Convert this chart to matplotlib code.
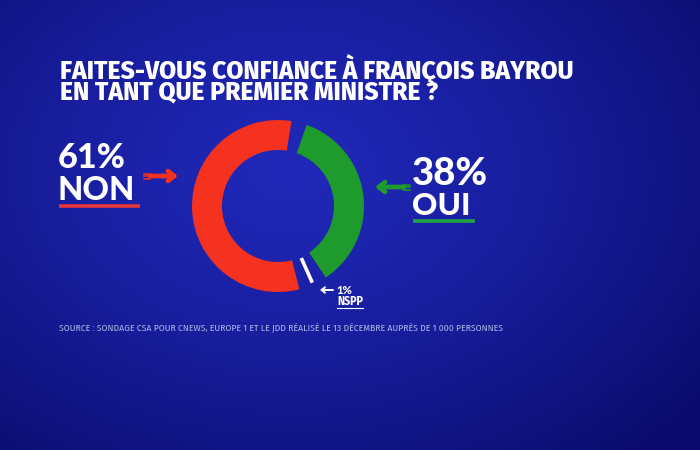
import numpy as np
import matplotlib

matplotlib.use("Agg")
import matplotlib.pyplot as plt  # noqa: E402
from matplotlib.patches import Wedge  # noqa: E402

# data ---------------------------------------------------------------------
labels = ["OUI", "NSPP", "NON"]            # clockwise order, starting top right
values = [38, 1, 61]
colors = ["#1f9a2c", "white", "#f4321f"]
title = "FAITES-VOUS CONFIANCE À FRANÇOIS BAYROU\nEN TANT QUE PREMIER MINISTRE ?"
source = ("SOURCE : SONDAGE CSA POUR CNEWS, EUROPE 1 ET LE JDD RÉALISÉ LE 13 DÉCEMBRE "
          "AUPRÈS DE 1 000 PERSONNES")

# layout (pixels, y down) ----------------------------------------------------
W, H = 700, 450
CX, CY, R_OUT, R_IN = 278, 206, 86, 56
START = 19.5                 # clock angle where the first segment begins
GAPS = [8, 8, 10.5]          # gap after each segment
TITLE_F, TITLE_CAP = "Fira Sans", 0.689
SMALL_F = "Fira Sans Condensed"
BIG_F, BIG_CAP = "Lato", 0.7165

fig = plt.figure(figsize=(7, 4.5), dpi=100)
ax = fig.add_axes([0, 0, 1, 1])
ax.set_xlim(0, W); ax.set_ylim(H, 0); ax.axis("off")

# background: radial blue gradient
yy, xx = np.mgrid[0:H, 0:W]
d = np.sqrt(((xx - 290) / 520) ** 2 + ((yy - 170) / 380) ** 2).clip(0, 1)
c0, c1 = np.array([0x20, 0x28, 0xb8]) / 255, np.array([0x0a, 0x0b, 0x6c]) / 255
bg = c0 + (c1 - c0) * d[..., None] ** 1.3
ax.imshow(bg, extent=[0, W, H, 0], zorder=0)

# donut: clock angle a -> data angle a - 90 (y axis inverted)
per_pct = (360 - sum(GAPS)) / sum(values)
a = START
for lab, v, c, g in zip(labels, values, colors, GAPS):
    span = v * per_pct
    if lab == "NSPP":
        mid = np.deg2rad(a + span / 2)
        r = np.array([R_IN + 1, R_OUT - 2])
        ax.plot(CX + r * np.sin(mid), CY - r * np.cos(mid), color=c, lw=2.6,
                solid_capstyle="butt", zorder=3)
    else:
        ax.add_patch(Wedge((CX, CY), R_OUT, a - 90, a + span - 90, width=R_OUT - R_IN,
                           color=c, lw=0, zorder=2))
    a += span + g

rend = fig.canvas.get_renderer()


def cap_text(x, y, s, cap, ratio, **kw):
    """text with baseline at y and capitals `cap` pixels tall"""
    return ax.text(x, y, s, fontsize=cap / ratio * 0.72, va="baseline", ha="left", **kw)


def fit_text(x, y, s, width, size=20, **kw):
    """text with baseline at y scaled to the given pixel width"""
    t = ax.text(x, y, s, fontsize=size, va="baseline", ha="left", **kw)
    t.set_fontsize(size * width / t.get_window_extent(rend).width)
    return t


# title
l1, l2 = title.split("\n")
cap_text(60, 79, l1, 17, TITLE_CAP, family=TITLE_F, weight="heavy", color="white")
cap_text(60, 99, l2, 17, TITLE_CAP, family=TITLE_F, weight="heavy", color="white")

# NON block
non_i, oui_i, ns_i = labels.index("NON"), labels.index("OUI"), labels.index("NSPP")
cap_text(58, 168, f"{values[non_i]}%", 24.5, BIG_CAP, family=BIG_F, weight="black", color="white")
cap_text(58, 200, labels[non_i], 23.5, BIG_CAP, family=BIG_F, weight="black", color="white")
ax.plot([59, 140], [206, 206], color="#e8363a", lw=2.6, solid_capstyle="butt")
for dy in (-2.5, 0, 2.5):
    ax.plot([144, 150], [176 + dy, 176 + dy], color=colors[non_i], lw=1.1)
ax.annotate("", xy=(178, 176), xytext=(150, 176),
            arrowprops=dict(arrowstyle="->,head_length=0.45,head_width=0.35",
                            color=colors[non_i], lw=3.4, shrinkA=0, shrinkB=0))

# OUI block
cap_text(412, 185, f"{values[oui_i]}%", 27.5, BIG_CAP, family=BIG_F, weight="black", color="white")
cap_text(412, 215, labels[oui_i], 22.5, BIG_CAP, family=BIG_F, weight="black", color="white")
ax.plot([413, 475], [221, 221], color="#22a244", lw=2.6, solid_capstyle="butt")
for dy in (-2.5, 0, 2.5):
    ax.plot([403, 410], [187 + dy, 187 + dy], color=colors[oui_i], lw=1.1)
ax.annotate("", xy=(375, 187), xytext=(404, 187),
            arrowprops=dict(arrowstyle="->,head_length=0.45,head_width=0.35",
                            color=colors[oui_i], lw=3.4, shrinkA=0, shrinkB=0))

# NSPP label
ax.annotate("", xy=(320, 290), xytext=(333, 290),
            arrowprops=dict(arrowstyle="->,head_length=0.25,head_width=0.2",
                            color="white", lw=1.4, shrinkA=0, shrinkB=0))
fit_text(336, 294, f"{values[ns_i]}%", 16, family=BIG_F, weight="black", color="white")
fit_text(337, 305, labels[ns_i], 26, family=SMALL_F, weight="bold", color="white")
ax.plot([337, 363], [307.5, 307.5], color="white", lw=0.8)

# source
fit_text(59, 330, source, 441, family=SMALL_F, color="#aab2e6")

fig.savefig("out.png", dpi=100)
